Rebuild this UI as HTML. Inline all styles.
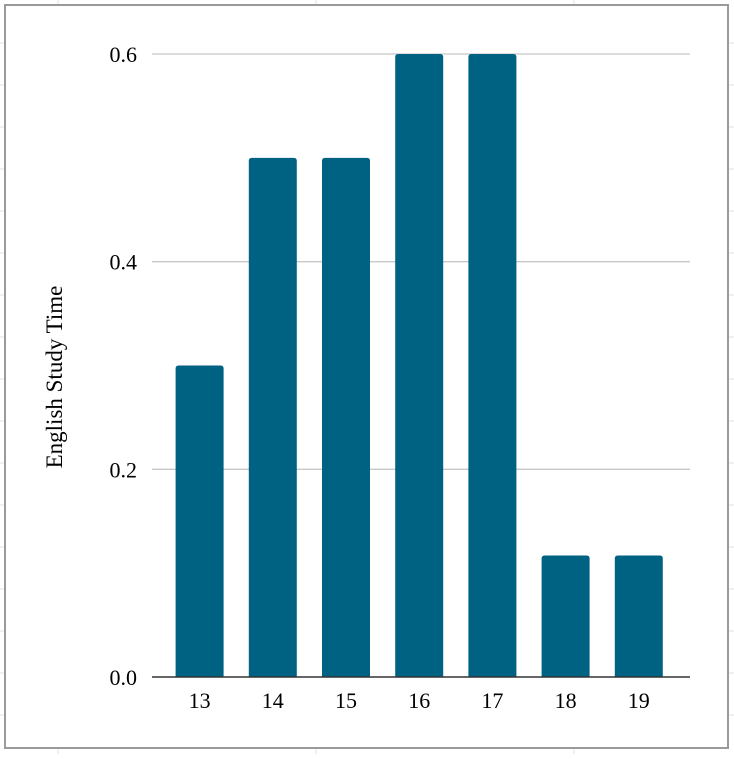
<!DOCTYPE html>
<html><head><meta charset="utf-8"><style>
body{margin:0;background:#fff;width:734px;height:754px;overflow:hidden;font-family:"Liberation Serif",serif}
</style></head><body>
<svg id="c" width="734" height="754" xmlns="http://www.w3.org/2000/svg">
<g id="bggrid" stroke="#e2e2e2" stroke-width="1"></g>
<rect x="5" y="5" width="723" height="743" fill="#fff" stroke="#9a9a9a" stroke-width="2"/>
<g id="plot"></g>
<text x="62" y="377" transform="rotate(-90 62 377)" text-anchor="middle" font-size="23" fill="#000">English Study Time</text>
</svg>
<script>
const categories=["13","14","15","16","17","18","19"];
const values=[0.3,0.5,0.5,0.6,0.6,0.117,0.117];
const yTicks=[0,0.2,0.4,0.6];
const yTickLabels=["0.0","0.2","0.4","0.6"];
const NS="http://www.w3.org/2000/svg";
const g=document.getElementById('plot'),bg=document.getElementById('bggrid');
function mk(t,a,p){const e=document.createElementNS(NS,t);for(const k in a)e.setAttribute(k,a[k]);p.appendChild(e);return e;}
for(let x=58;x<734;x+=258){mk('line',{x1:x,y1:0,x2:x,y2:754},bg);}
for(let y=43;y<754;y+=42){mk('line',{x1:0,y1:y,x2:734,y2:y},bg);}
const y0=677,y1=54,vmax=0.6;
const ys=v=>y0-(y0-y1)*v/vmax;
const bandStart=163,band=73.2,bw=48;
const xs=i=>bandStart+band*(i+0.5);
yTicks.forEach((t,i)=>{
  if(t>0){const l=mk('line',{x1:152,x2:690,y1:ys(t),y2:ys(t),stroke:'#c8c8c8','stroke-width':1.3},g);
  
  }
  const tx=mk('text',{x:137,y:ys(t)+8,'text-anchor':'end','font-size':22,fill:'#000'},g);
  tx.textContent=yTickLabels[i];
  
  
});
categories.forEach((c,i)=>{
  const top=ys(values[i]);
  const r=mk('path',{d:`M${xs(i)-bw/2},${y0}V${top+3}Q${xs(i)-bw/2},${top} ${xs(i)-bw/2+3},${top}H${xs(i)+bw/2-3}Q${xs(i)+bw/2},${top} ${xs(i)+bw/2},${top+3}V${y0}Z`,fill:'#006282'},g);
  
  
  const tx=mk('text',{x:xs(i),y:708,'text-anchor':'middle','font-size':22,fill:'#000'},g);
  tx.textContent=c;
  
  
});
const ax=mk('line',{x1:152,x2:690,y1:y0,y2:y0,stroke:'#333','stroke-width':1.6},g);


</script>
</body></html>
